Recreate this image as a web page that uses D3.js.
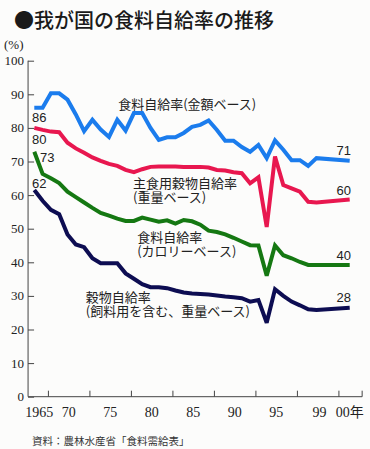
<!DOCTYPE html>
<html>
<head>
<meta charset="utf-8">
<script src="https://cdn.jsdelivr.net/npm/d3@7"></script>
<style>
  html, body { margin: 0; padding: 0; background: #fcfcfb; }
  svg { display: block; }
</style>
</head>
<body>
<div id="chart"></div>
<script>
// --- DATA ---
const years = [1965, 1966, 1967, 1968, 1969, 1970, 1971, 1972, 1973, 1974,
               1975, 1976, 1977, 1978, 1979, 1980, 1981, 1982, 1983, 1984,
               1985, 1986, 1987, 1988, 1989, 1990, 1991, 1992, 1993, 1994,
               1995, 1996, 1997, 1998, 1999, 2000];

// 食料自給率(金額ベース)
const valueBased = [86, 86, 90.3, 90.3, 88.4, 84, 79, 82.4, 79.5, 77.3,
                    82.4, 79.2, 84.4, 84.4, 80, 76.4, 77.2, 77.2, 78.5, 80.3,
                    80.9, 82.2, 79.4, 76.2, 76.2, 74.3, 72.9, 74.9, 71, 76.3,
                    73.5, 70.4, 70.4, 68.7, 71, 70.2];
// 主食用穀物自給率(重量ベース)
const stapleGrain = [80, 79.4, 78.9, 78.7, 75.6, 73.9, 72.6, 71.2, 70.2, 69.3,
                     68.7, 67.5, 66.8, 67.7, 68.4, 68.5, 68.5, 68.5, 68.4, 68.4,
                     68.4, 68.2, 67.5, 67.3, 66.8, 66.5, 63.5, 65.3, 50.5, 71.5,
                     63, 62, 61, 58, 57.8, 58.7];
// 食料自給率(カロリーベース)
const calorieBased = [72.9, 66.3, 65, 63.6, 61, 59.4, 57.8, 56.2, 54.7, 53.9,
                      53, 52.3, 52.3, 53.3, 52.7, 52.1, 52.5, 51.5, 52.6, 52.2,
                      51.2, 49.4, 49, 48.3, 47.3, 46.2, 45.1, 45, 36, 45,
                      42.1, 41.2, 40.1, 39.2, 39.2, 39.2];
// 穀物自給率(飼料用を含む、重量ベース)
const allGrain = [61.5, 58.3, 55.6, 54.3, 48.3, 45.3, 44.5, 41.2, 39.7, 39.7,
                  39.7, 36.7, 35.1, 33.5, 32.6, 32.6, 32.3, 31.6, 31, 30.7,
                  30.6, 30.4, 30.1, 29.8, 29.6, 29.3, 28.3, 28.8, 22, 32,
                  30, 28.3, 27.2, 26, 25.8, 26.5];

const seriesNames = [
    ["食料自給率(金額ベース)"],
    ["主食用穀物自給率", "(重量ベース)"],
    ["食料自給率", "(カロリーベース)"],
    ["穀物自給率", "(飼料用を含む、重量ベース)"]
];
const startLabels = ["86", "80", "73", "62"];
const endLabels = ["71", "60", "40", "28"];

const yTicks = [0, 10, 20, 30, 40, 50, 60, 70, 80, 90, 100];
const xLabelYears = [1965, 1970, 1975, 1980, 1985, 1990, 1995, 1999, 2000];
const xLabelText = ["1965", "70", "75", "80", "85", "90", "95", "99", "00年"];

const TITLE = "●我が国の食料自給率の推移";
const SOURCE = "資料：農林水産省「食料需給表」";

// --- CONFIGURATION ---
const WIDTH = 370;
const HEIGHT = 449;
const SERIF = "'Liberation Serif', 'DejaVu Serif', serif";
const SANS = "'Liberation Sans', Arial, sans-serif";
const CJK = "'Noto Sans CJK JP', 'Noto Sans', sans-serif";

// colour + where each annotation sits (year, value) and number-label nudges
const STYLE = [
    { color: "#1b7ced", label: [1975.1, 87.1], start: [5, 9.5],  end: [-6, -10.5] },
    { color: "#e8174f", label: [1976.9, 63.6], start: [5, 12],   end: [-6, -9] },
    { color: "#157812", label: [1977.4, 47.5], start: [13, 5.3], end: [-6, -10] },
    { color: "#0d0d52", label: [1971.2, 29.4], start: [5, -7],   end: [-6, -10] }
];

const seriesValues = [valueBased, stapleGrain, calorieBased, allGrain];

// the printed axis runs at an even pace; the last year (2000) is drawn further right
const xBase = d3.scaleLinear().domain([1965, 2000]).range([34.3, 324.8]);
const x = d3.scaleLinear()
    .domain([1965, 1999, 2000])
    .range([xBase(1965), xBase(1999), xBase(2003)]);
const y = d3.scaleLinear().domain([0, 100]).range([396.7, 60.7]);

const svg = d3.select("#chart")
    .append("svg")
    .attr("width", WIDTH)
    .attr("height", HEIGHT)
    .attr("viewBox", [0, 0, WIDTH, HEIGHT]);

svg.append("rect").attr("width", WIDTH).attr("height", HEIGHT).attr("fill", "#fcfcfb");

// title
svg.append("text")
    .attr("x", 14).attr("y", 28)
    .attr("font-family", CJK)
    .attr("font-size", 20)
    .attr("font-weight", 500)
    .attr("fill", "#1a1a1a")
    .text(TITLE);

// (%) unit
svg.append("text")
    .attr("x", 4).attr("y", 49)
    .attr("font-family", SERIF)
    .attr("font-size", 13)
    .attr("fill", "#222")
    .text("(%)");

// y axis
const x0 = xBase(1964.25);
const xEnd = xBase(2004.5);
const yAxis = d3.axisRight(y)
    .tickValues(yTicks)
    .tickSize(6)
    .tickFormat("");
svg.append("g")
    .attr("transform", `translate(${x0},0)`)
    .call(yAxis)
    .call(g => g.selectAll("line, path").attr("stroke", "#444").attr("stroke-width", 1))
    .call(g => g.select(".domain").attr("d", `M0,${y(100)}V${y(0)}`));

svg.append("g")
    .selectAll("text")
    .data(yTicks)
    .join("text")
    .attr("x", x0 - 4)
    .attr("y", d => y(d))
    .attr("dy", "0.35em")
    .attr("text-anchor", "end")
    .attr("font-family", SERIF)
    .attr("font-size", 13)
    .attr("fill", "#222")
    .text(d => d);

// x axis: ticks sit at an even 5-year spacing between the labels
const tickYears = [1966.7, 1971.7, 1976.7, 1981.7, 1986.7, 1991.7, 1996.7, 2001.7, 2004.5];
const xAxisG = svg.append("g").attr("transform", `translate(0,${y(0)})`);
xAxisG.append("line")
    .attr("x1", x0).attr("x2", xEnd)
    .attr("stroke", "#444").attr("stroke-width", 1);
xAxisG.selectAll(".tick")
    .data(tickYears)
    .join("line")
    .attr("x1", d => xBase(d)).attr("x2", d => xBase(d))
    .attr("y1", 0).attr("y2", -6)
    .attr("stroke", "#444").attr("stroke-width", 1);

xAxisG.selectAll(".lbl")
    .data(xLabelYears)
    .join("text")
    .attr("x", (d, i) => {
        if (i === 0) return x(d) - 9;
        if (d <= 1995) return x(d) - 7;
        if (d === 1999) return x(d) + 3;
        return x(d);
    })
    .attr("y", 20)
    .attr("text-anchor", (d, i) => i === 0 ? "start" : "middle")
    .attr("font-family", `${SERIF}, 'Noto Sans CJK JP'`)
    .attr("font-size", 14)
    .attr("fill", "#222")
    .text((d, i) => xLabelText[i]);

// lines
const line = d3.line()
    .x((d, i) => x(years[i]))
    .y(d => y(d))
    .curve(d3.curveLinear);

svg.append("g")
    .selectAll("path")
    .data(seriesValues)
    .join("path")
    .attr("d", d => line(d))
    .attr("fill", "none")
    .attr("stroke", (d, i) => STYLE[i].color)
    .attr("stroke-width", 4)
    .attr("stroke-linejoin", "miter")
    .attr("stroke-miterlimit", 3);

// start / end value labels
const last = years.length - 1;
svg.append("g")
    .selectAll("text")
    .data(seriesValues)
    .join("text")
    .attr("x", (d, i) => x(years[0]) + STYLE[i].start[0])
    .attr("y", (d, i) => y(d[0]) + STYLE[i].start[1])
    .attr("dy", "0.35em")
    .attr("text-anchor", "middle")
    .attr("font-family", SANS)
    .attr("font-size", 13)
    .attr("fill", "#222")
    .text((d, i) => startLabels[i]);

svg.append("g")
    .selectAll("text")
    .data(seriesValues)
    .join("text")
    .attr("x", (d, i) => x(years[last]) + STYLE[i].end[0])
    .attr("y", (d, i) => y(d[last]) + STYLE[i].end[1])
    .attr("dy", "0.35em")
    .attr("text-anchor", "middle")
    .attr("font-family", SANS)
    .attr("font-size", 13)
    .attr("fill", "#222")
    .text((d, i) => endLabels[i]);

// series names (each line its own text element)
seriesNames.forEach((lines, i) => {
    const [yr, v] = STYLE[i].label;
    lines.forEach((s, j) => {
        svg.append("text")
            .attr("x", xBase(yr))
            .attr("y", y(v) + j * 14)
            .attr("dy", "0.35em")
            .attr("font-family", CJK)
            .attr("font-size", 13)
            .attr("fill", "#222")
            .text(s);
    });
});

// source
svg.append("text")
    .attr("x", 32).attr("y", 441)
    .attr("dy", "0.35em")
    .attr("font-family", CJK)
    .attr("font-size", 10.5)
    .attr("fill", "#333")
    .text(SOURCE);
</script>
</body>
</html>
